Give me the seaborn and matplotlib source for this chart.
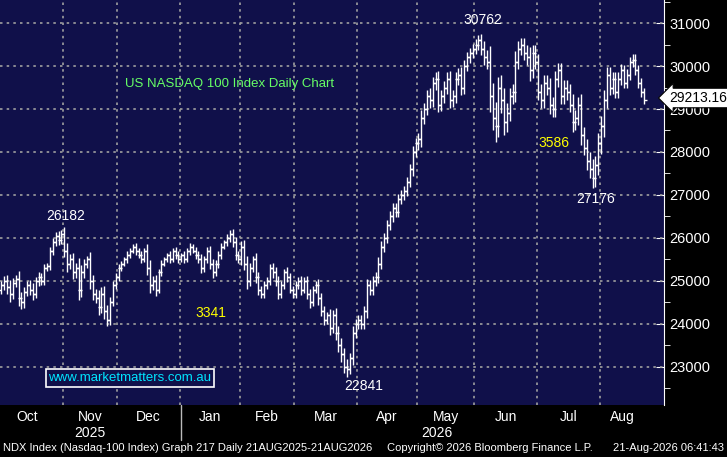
import numpy as np
import pandas as pd
import matplotlib
matplotlib.use("Agg")
import matplotlib.pyplot as plt
import seaborn as sns

months = ["Oct", "Nov", "Dec", "Jan", "Feb", "Mar", "Apr", "May", "Jun", "Jul", "Aug"]
closes_by_month = [
    [24900, 25000, 24850, 24700, 24950, 25050, 24600, 24500, 24750, 24900, 24800, 24700,
     25000, 25100, 25000, 25300, 25350, 25700, 25900, 26050, 25950, 26100],
    [25700, 25400, 25500, 25200, 25300, 24800, 25200, 25400, 25500, 25000, 24700, 24600,
     24400, 24700, 24300, 24100, 24500, 24900, 25100],
    [25300, 25400, 25500, 25600, 25700, 25800, 25700, 25600, 25500, 25700, 25300, 24900,
     25000, 24800, 25200, 25400, 25500, 25600, 25500, 25700, 25600, 25500],
    [25600, 25500, 25700, 25800, 25700, 25600, 25500, 25300, 25500, 25700, 25400, 25200,
     25400, 25600, 25800, 25900, 26000, 26100, 25900, 25600, 25500],
    [25800, 25400, 25000, 25300, 25500, 25100, 24800, 24700, 24900, 25000, 25300, 25200,
     25000, 24700, 24900, 25200, 25100, 24800, 24700],
    [24900, 25000, 24800, 25000, 24700, 24500, 24800, 24900, 24600, 24300, 24100, 24200,
     23900, 24200, 23800, 23500, 23300, 23000, 22950, 23200, 23800, 24000],
    [24100, 24000, 24300, 24900, 24800, 25000, 25100, 25400, 25800, 26000, 26300, 26500,
     26700, 26600, 26900, 27000, 27100, 27300, 27600, 28000, 28200],
    [28300, 28800, 29000, 29300, 29200, 29600, 29700, 29100, 29300, 29500, 29700, 29200,
     29300, 29700, 29800, 29500, 30000, 30200, 30300, 30400],
    [30500, 30600, 30400, 30200, 30100, 29300, 28800, 28600, 29500, 29200, 28700, 28900,
     29300, 29400, 30100, 30400, 30500, 30300, 30200, 29900, 30300, 30100],
    [29400, 29200, 29600, 29500, 29100, 29000, 29700, 29900, 29300, 29500, 29400, 29100,
     28700, 28800, 29100, 28400, 28100, 27800, 27600, 27400, 27700, 28200],
    [28600, 29200, 29800, 29500, 29700, 29400, 29700, 29900, 29600, 29800, 30100, 30150,
     29900, 29600, 29400, 29213.16],
]
wicks = [
    180, 200, 250, 300, 200, 150, 300, 250, 200, 150, 200, 250, 150, 200, 150, 150, 100, 150, 150, 150, 200, 150,
    250, 300, 200, 250, 200, 400, 300, 200, 150, 300, 250, 200, 300, 250, 300, 250, 200, 150, 150,
    150, 100, 100, 150, 100, 100, 150, 100, 150, 100, 250, 300, 200, 250, 150, 150, 100, 100, 150, 100, 150, 150,
    100, 150, 100, 150, 100, 150, 150, 200, 150, 150, 200, 200, 150, 150, 150, 100, 150, 150, 200, 200, 150,
    200, 250, 300, 200, 150, 250, 200, 150, 150, 150, 150, 200, 200, 200, 150, 150, 200, 150, 150,
    150, 150, 200, 150, 200, 200, 150, 150, 250, 200, 200, 150, 250, 200, 300, 250, 300, 250, 300, 200, 250, 200,
    200, 200, 200, 250, 200, 200, 200, 250, 200, 200, 200, 200, 200, 200, 200, 200, 200, 200, 200, 250, 200,
    250, 300, 250, 250, 300, 250, 250, 300, 250, 250, 250, 300, 250, 250, 250, 300, 250, 200, 200, 200,
    200, 200, 250, 300, 300, 600, 500, 600, 400, 500, 500, 400, 300, 300, 400, 300, 250, 250, 300, 400, 300, 300,
    300, 300, 300, 300, 350, 300, 300, 300, 300, 300, 300, 300, 400, 300, 300, 400, 300, 350, 350, 400, 350, 400,
    400, 400, 300, 300, 250, 250, 250, 250, 200, 200, 200, 200, 200, 200, 200, 150,
]

closes = [c for m in closes_by_month for c in m]
n = len(closes)
df = pd.DataFrame({"idx": np.arange(n), "close": closes})
df["open"] = df["close"].shift(1).fillna(df["close"].iloc[0] - 100)
w = np.array((wicks + [200] * n)[:n])
df["high"] = np.maximum(df["open"], df["close"]) + w * 0.6
df["low"] = np.minimum(df["open"], df["close"]) - w * 0.6

starts = np.cumsum([0] + [len(m) for m in closes_by_month])

sns.set_style("dark")
plt.rcParams["font.family"] = ["Liberation Sans", "DejaVu Sans"]
W, H = 727, 457
fig = plt.figure(figsize=(W / 100, H / 100), dpi=100, facecolor="black")
ax = fig.add_axes([0, 1 - 405 / H, 664 / W, 405 / H])
bg = "#10104a"
ax.set_facecolor(bg)

x0, x1 = -0.5, n + 6
ax.set_xlim(x0, x1)
ax.set_ylim(22116, 31535)

for s in starts[1:-1]:
    ax.axvline(s - 0.5, color="#a0a0a0", ls=(0, (1.5, 2.5)), lw=1.2, zorder=1)
for yv in range(23000, 31001, 1000):
    ax.axhline(yv, color="#a0a0a0", ls=(0, (1.5, 2.5)), lw=1.2, zorder=1)

ax.vlines(df["idx"], df["low"], df["high"], color="white", lw=1.0, zorder=3)
ax.plot(df["idx"], df["open"], ls="none", marker=0, ms=2.2, mew=1.0, color="white", zorder=3)
sns.scatterplot(data=df, x="idx", y="close", ax=ax, marker=1, s=5, linewidth=1.0,
                color="white", edgecolor="white", legend=False, zorder=3)
ax.set_xlabel("")
ax.set_ylabel("")

ax.set_xticks([])
ax.yaxis.tick_right()
ax.set_yticks(range(23000, 31001, 1000))
ax.set_yticklabels([str(v) for v in range(23000, 31001, 1000)], color="white", fontsize=10.5)
ax.set_yticks(range(22500, 31501, 1000), minor=True)
ax.tick_params(axis="y", which="major", direction="in", length=6, color="white", pad=4)
ax.tick_params(axis="y", which="minor", direction="out", length=4, color="white")
for k, sp in ax.spines.items():
    sp.set_visible(k == "right")
ax.spines["right"].set_color("white")

def px(xp, yp):
    return xp / W, 1 - yp / H

for i, m in enumerate(months):
    xc = (starts[i] + starts[i + 1] - 1) / 2
    xf = (xc - x0) / (x1 - x0) * 664
    if i == 0:
        xf = 27
    fig.text(*px(xf, 417), m, color="white", fontsize=10, ha="center", va="center")
fig.text(*px(90, 433), "2025", color="white", fontsize=10, ha="center", va="center")
fig.text(*px(437, 433), "2026", color="white", fontsize=10, ha="center", va="center")
fig.add_artist(plt.Line2D([181 / W, 181 / W], [1 - 405 / H, 1 - 440 / H], color="#bbbbbb", lw=1))
fig.text(*px(3, 448), "NDX Index (Nasdaq-100 Index) Graph 217 Daily 21AUG2025-21AUG2026",
         color="white", fontsize=8, ha="left", va="center")
fig.text(*px(387, 448), "Copyright\u00a9 2026 Bloomberg Finance L.P.", color="white",
         fontsize=8, ha="left", va="center")
fig.text(*px(724, 448), "21-Aug-2026 06:41:43", color="white", fontsize=8, ha="right", va="center")

fig.text(*px(66, 216), "26182", color="white", fontsize=10, ha="center", va="center")
fig.text(*px(211, 313), "3341", color="#ffff00", fontsize=10, ha="center", va="center")
fig.text(*px(364, 386), "22841", color="white", fontsize=10, ha="center", va="center")
fig.text(*px(483, 20), "30762", color="white", fontsize=10, ha="center", va="center")
fig.text(*px(554, 143), "3586", color="#ffff00", fontsize=10, ha="center", va="center")
fig.text(*px(596, 199), "27176", color="white", fontsize=10, ha="center", va="center")
fig.text(*px(230, 84), "US NASDAQ 100 Index Daily Chart", color="#66ff66", fontsize=9.5,
         ha="center", va="center")
fig.text(*px(130, 378), "www.marketmatters.com.au", color="#00e5ff", fontsize=9.5,
         ha="center", va="center",
         bbox=dict(boxstyle="square,pad=0.2", fc=bg, ec="white", lw=1.2))
fig.text(*px(698, 98), "29213.16", color="black", fontsize=10, ha="center", va="center",
         bbox=dict(boxstyle="larrow,pad=0.2", fc="white", ec="black", lw=0.8))

fig.savefig("out.png", dpi=100, facecolor="black")
